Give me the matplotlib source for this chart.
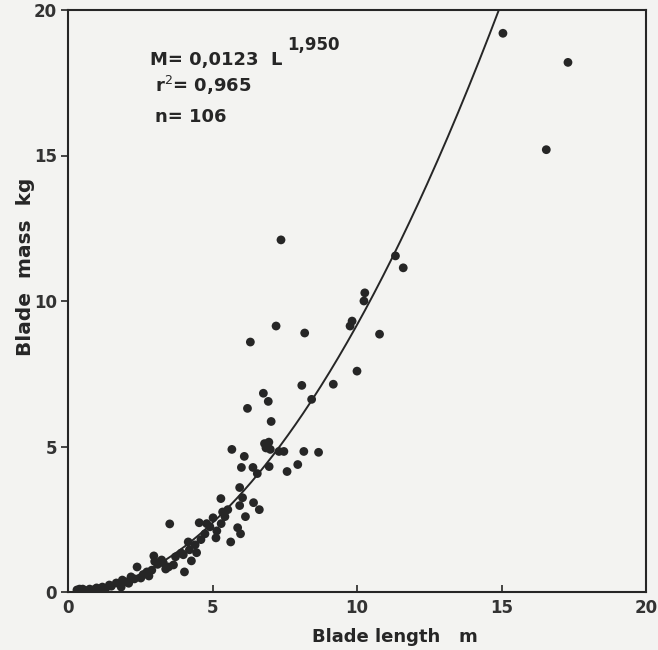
import numpy as np
import matplotlib.pyplot as plt

# blade length (m) and blade mass (kg)
length_m = [15.05, 17.3, 16.55, 7.37, 11.33, 11.6, 10.27, 10.24, 9.83, 9.76,
            7.2, 8.19, 10.78, 6.31, 10.0, 8.09, 9.18, 6.76, 6.93, 8.43,
            6.21, 7.03, 6.8, 6.95, 6.85, 7.0, 6.9, 5.67, 6.1, 7.3,
            7.47, 8.16, 8.67, 6.0, 6.4, 6.96, 6.55, 7.58, 7.95, 5.94,
            5.29, 6.04, 5.94, 6.42, 6.62, 5.53, 5.43, 5.02, 6.14, 4.54,
            4.91, 5.15, 4.74, 5.12, 5.87, 5.97, 5.63, 4.16, 4.4, 3.92,
            3.52, 5.35, 2.97, 3.24, 3.72, 3.99, 4.27, 3.48, 3.65, 4.03,
            3.38, 2.39, 2.73, 2.52, 2.18, 1.88, 1.67, 1.43, 1.19, 0.99,
            0.75, 0.51, 0.31, 1.84, 1.5, 2.0, 2.3, 2.6, 2.9, 3.1,
            3.3, 1.3, 0.6, 0.4, 0.9, 1.1, 2.1, 2.8, 3.0, 4.45,
            4.2, 4.6, 5.3, 4.8]
mass_kg = [19.2, 18.2, 15.2, 12.1, 11.55, 11.14, 10.28, 10.0, 9.31, 9.14,
           9.14, 8.9, 8.86, 8.59, 7.59, 7.1, 7.14, 6.83, 6.55, 6.62,
           6.31, 5.86, 5.1, 5.15, 4.95, 4.9, 5.0, 4.9, 4.66, 4.83,
           4.83, 4.83, 4.8, 4.28, 4.28, 4.31, 4.07, 4.14, 4.38, 3.59,
           3.21, 3.24, 2.97, 3.07, 2.83, 2.83, 2.59, 2.55, 2.59, 2.38,
           2.24, 2.1, 2.0, 1.86, 2.21, 2.0, 1.72, 1.72, 1.62, 1.34,
           2.34, 2.75, 1.24, 1.1, 1.21, 1.28, 1.07, 0.86, 0.93, 0.69,
           0.79, 0.86, 0.69, 0.48, 0.52, 0.41, 0.31, 0.24, 0.17, 0.14,
           0.1, 0.1, 0.07, 0.17, 0.2, 0.35, 0.45, 0.6, 0.75, 0.95,
           1.0, 0.12, 0.05, 0.1, 0.08, 0.1, 0.3, 0.55, 1.05, 1.35,
           1.45, 1.8, 2.35, 2.35]

# fitted power curve as drawn in the chart's axis units
fit_coef = 0.103
fit_exp = 1.95
fit_range = (0.3, 15.6)

eq_lines = ["M= 0,0123  L", "r$^{2}$= 0,965", "n= 106"]
eq_sup = "1,950"

ink = "#262626"
paper = "#f3f3f1"

fig = plt.figure(figsize=(6.58, 6.5), dpi=100, facecolor=paper)
ax = fig.add_axes([68 / 658, 58 / 650, 578 / 658, 582 / 650])
ax.set_facecolor(paper)

L = np.linspace(fit_range[0], fit_range[1], 300)
ax.plot(L, fit_coef * L ** fit_exp, color=ink, lw=1.4)
ax.scatter(length_m, mass_kg, s=40, color=ink, edgecolors="none", zorder=3)

ax.set_xlim(0, 20)
ax.set_ylim(0, 20)
ax.set_xticks([0, 5, 10, 15, 20])
ax.set_yticks([0, 5, 10, 15, 20])
ax.tick_params(axis="x", direction="in", length=5, width=1.2, colors=ink,
               labelsize=12, pad=5)
ax.tick_params(axis="y", direction="out", length=5, width=1.2, colors=ink,
               labelsize=12, pad=3)
for lab in ax.get_xticklabels() + ax.get_yticklabels():
    lab.set_fontweight("bold")
    lab.set_color("#333333")
for sp in ax.spines.values():
    sp.set_color(ink)
    sp.set_linewidth(1.5)

ax.set_xlabel("Blade length   m", fontsize=13, fontweight="bold", color=ink)
ax.set_ylabel("Blade  mass  kg", fontsize=14.5, fontweight="bold", color=ink)
ax.xaxis.set_label_coords(0.565, -0.062)
ax.yaxis.set_label_coords(-0.057, 0.558)

ax.text(0.142, 0.905, eq_lines[0], transform=ax.transAxes, fontsize=13,
        fontweight="bold", color=ink)
ax.text(0.379, 0.931, eq_sup, transform=ax.transAxes, fontsize=12,
        fontweight="bold", color=ink)
ax.text(0.1505, 0.859, eq_lines[1], transform=ax.transAxes, fontsize=13,
        fontweight="bold", color=ink)
ax.text(0.1505, 0.808, eq_lines[2], transform=ax.transAxes, fontsize=13,
        fontweight="bold", color=ink)

fig.savefig("out.png", dpi=100, facecolor=paper)
